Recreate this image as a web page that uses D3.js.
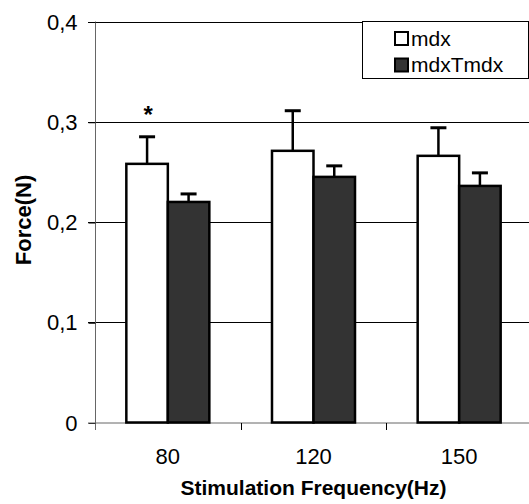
<!DOCTYPE html>
<html>
<head>
<meta charset="utf-8">
<script src="https://cdn.jsdelivr.net/npm/d3@7"></script>
<style>
  html, body { margin: 0; padding: 0; background: #fff; }
  svg { display: block; }
  text { font-family: "Liberation Sans", Arial, sans-serif; fill: #000; }
</style>
</head>
<body>
<svg id="chart" width="529" height="504"></svg>
<script>
const categories = ["80", "120", "150"];
const seriesNames = ["mdx", "mdxTmdx"];
const mdxValues = [0.258, 0.271, 0.266];
const mdxErrors = [0.027, 0.040, 0.028];
const mdxTmdxValues = [0.220, 0.245, 0.236];
const mdxTmdxErrors = [0.008, 0.011, 0.013];
const yTicks = [0, 0.1, 0.2, 0.3, 0.4];
const yTickLabels = ["0", "0,1", "0,2", "0,3", "0,4"];
const significant = [true, false, false];

const fills = { mdx: "#ffffff", mdxTmdx: "#333333" };

const svg = d3.select("#chart");
const mLeft = 95, mRight = 532, mTop = 21.5, mBottom = 422.5;

const x = d3.scaleBand().domain(categories).range([mLeft, mRight]).padding(0);
const xInner = d3.scaleBand().domain(seriesNames).range([0, x.bandwidth()])
  .paddingInner(0).paddingOuter(0.755);
const y = d3.scaleLinear().domain([0, 0.4]).range([mBottom, mTop]);

// gridlines
svg.append("g").selectAll("line").data(yTicks.filter(d => d > 0)).join("line")
  .attr("x1", mLeft - 7).attr("x2", 529)
  .attr("y1", d => Math.round(y(d)) + 0.5).attr("y2", d => Math.round(y(d)) + 0.5)
  .attr("stroke", "#000").attr("stroke-width", 1);

// y axis
const yAxis = d3.axisLeft(y).tickValues(yTicks).tickSize(7).tickPadding(11)
  .tickFormat((d, i) => yTickLabels[i]);
const gy = svg.append("g").attr("transform", `translate(${mLeft + 0.5},0.5)`).call(yAxis);
gy.select(".domain").attr("stroke", "#666").attr("d", `M0,${mTop - 0.5}V${mBottom + 7}`);
gy.selectAll(".tick line").attr("stroke", "#000");
gy.selectAll(".tick text").attr("font-size", 22).attr("font-family", "Liberation Sans, Arial, sans-serif")
  .attr("fill", "#000");

// x axis
const xAxis = d3.axisBottom(x).tickSize(0).tickPadding(25);
const gx = svg.append("g").attr("transform", `translate(0,${mBottom + 0.5})`).call(xAxis);
gx.select(".domain").attr("stroke", "#666").attr("d", `M${mLeft - 7},0H529`);
gx.selectAll(".tick text").attr("font-size", 22).attr("font-family", "Liberation Sans, Arial, sans-serif")
  .attr("fill", "#000");
// category boundary ticks
gx.append("g").selectAll("line").data(categories.slice(1)).join("line")
  .attr("x1", d => Math.round(x(d)) + 0.5).attr("x2", d => Math.round(x(d)) + 0.5)
  .attr("y1", 0).attr("y2", 7).attr("stroke", "#000");

// bars
const data = categories.map((c, i) => ({
  cat: c,
  items: [
    { s: "mdx", v: mdxValues[i], e: mdxErrors[i] },
    { s: "mdxTmdx", v: mdxTmdxValues[i], e: mdxTmdxErrors[i] }
  ]
}));

const groups = svg.append("g").selectAll("g").data(data).join("g")
  .attr("transform", d => `translate(${x(d.cat)},0)`);

groups.selectAll("g.err").data(d => d.items).join("g").attr("class", "err").each(function(d) {
  const g = d3.select(this);
  const cx = xInner(d.s) + xInner.bandwidth() / 2;
  g.append("line").attr("x1", cx).attr("x2", cx)
    .attr("y1", y(d.v)).attr("y2", y(d.v + d.e))
    .attr("stroke", "#000").attr("stroke-width", 2.5);
  g.append("line").attr("x1", cx - 8).attr("x2", cx + 8)
    .attr("y1", y(d.v + d.e)).attr("y2", y(d.v + d.e))
    .attr("stroke", "#000").attr("stroke-width", 3);
});

groups.selectAll("rect").data(d => d.items).join("rect")
  .attr("x", d => xInner(d.s))
  .attr("y", d => y(d.v))
  .attr("width", xInner.bandwidth())
  .attr("height", d => y(0) - y(d.v))
  .attr("fill", d => fills[d.s])
  .attr("stroke", "#000").attr("stroke-width", 2.5);

// significance asterisk
groups.filter((d, i) => significant[i]).append("text")
  .attr("x", xInner("mdx") + xInner.bandwidth() / 2 + 1)
  .attr("y", d => y(d.items[0].v + d.items[0].e) - 14)
  .attr("text-anchor", "middle").attr("font-size", 24).attr("font-weight", "bold")
  .text("*");

// y title
svg.append("text").attr("transform", "translate(31,220) rotate(-90)")
  .attr("text-anchor", "middle").attr("font-size", 22).attr("font-weight", "bold")
  .text("Force(N)");

// x title
svg.append("text").attr("x", 313.5).attr("y", 495)
  .attr("text-anchor", "middle").attr("font-size", 21).attr("font-weight", "bold")
  .text("Stimulation Frequency(Hz)");

// legend
const lg = svg.append("g");
lg.append("rect").attr("x", 362.5).attr("y", 21.5).attr("width", 166).attr("height", 57)
  .attr("fill", "#fff").attr("stroke", "#000").attr("stroke-width", 1);
const li = lg.selectAll("g.li").data(seriesNames).join("g").attr("class", "li")
  .attr("transform", (d, i) => `translate(395,${32 + i * 26.5})`);
li.append("rect").attr("width", 13).attr("height", 13)
  .attr("fill", d => fills[d]).attr("stroke", "#000").attr("stroke-width", 2);
li.append("text").attr("x", 16).attr("y", 13.5).attr("font-size", 21).text(d => d);
</script>
</body>
</html>
